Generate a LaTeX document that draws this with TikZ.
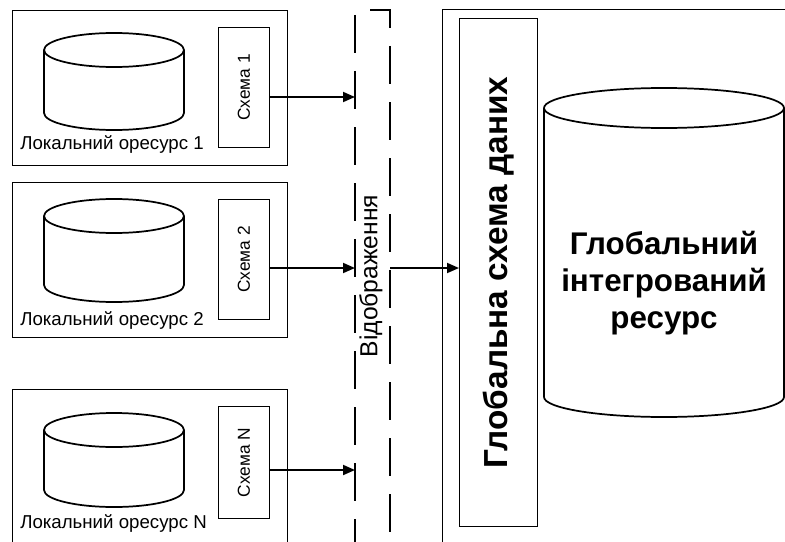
\documentclass[tikz,border=0pt]{standalone}
\usepackage{fontspec}
\setmainfont{Liberation Sans}
\usetikzlibrary{arrows.meta}

\tikzset{
  resbox/.style={draw, line width=0.75pt, anchor=north west, inner sep=0pt},
  schbox/.style={draw, line width=0.75pt, anchor=north west, inner sep=0pt, minimum width=38.25pt},
  dbline/.style={line width=1.3pt},
  reslabel/.style={anchor=west, inner sep=0pt, font=\fontsize{14}{16}\selectfont},
  schlabel/.style={rotate=90, inner sep=0pt, font=\fontsize{13}{15}\selectfont},
  flow/.style={line width=1.4pt, -{Triangle[length=9pt,width=7.5pt]}},
  mapline/.style={line width=1.4pt, dash pattern=on 28.5pt off 13.5pt}
}

\begin{document}
\begin{tikzpicture}[x=0.75pt,y=0.75pt,yscale=-1,xscale=1]
  \clip (0,0) rectangle (785,542);

  % local resource 1
  \node[resbox, minimum width=206.25pt, minimum height=116.25pt] (r1) at (12,10) {};
  \node[schbox, minimum height=90pt, label={[schlabel]center:Схема 1}] (s1) at (218,27) {};
  \draw[dbline] (114,50) ellipse [x radius=70, y radius=17];
  \draw[dbline] (44,50) -- (44,113) arc [start angle=180, end angle=0, x radius=70, y radius=17] -- (184,50);
  \node[reslabel] (l1) at (20,145) {Локальний оресурс 1};

  % local resource 2
  \node[resbox, minimum width=206.25pt, minimum height=116.25pt] (r2) at (12,182) {};
  \node[schbox, minimum height=90pt, label={[schlabel]center:Схема 2}] (s2) at (218,199) {};
  \draw[dbline] (114,216) ellipse [x radius=70, y radius=17];
  \draw[dbline] (44,216) -- (44,285) arc [start angle=180, end angle=0, x radius=70, y radius=17] -- (184,216);
  \node[reslabel] (l2) at (20,321) {Локальний оресурс 2};

  % local resource N
  \node[resbox, minimum width=206.25pt, minimum height=120pt] (r3) at (12,389) {};
  \node[schbox, minimum height=84pt, label={[schlabel]center:Схема N}] (s3) at (218,406) {};
  \draw[dbline] (114,430) ellipse [x radius=70, y radius=17];
  \draw[dbline] (44,430) -- (44,490) arc [start angle=180, end angle=0, x radius=70, y radius=17] -- (184,430);
  \node[reslabel] (l3) at (20,524) {Локальний оресурс N};

  % mapping layer
  \coordinate (a1) at (355,97);
  \coordinate (a2) at (355,268);
  \coordinate (a3) at (355,470);
  \draw[mapline] (355,15) -- (355,542);
  \draw[mapline] (370,10) -- (390,10) -- (390,542);
  \node[rotate=90, inner sep=0pt, font=\fontsize{18.5}{20}\selectfont] (map) at (371,276) {Відображення};

  \draw[flow] (s1.east |- a1) -- (a1);
  \draw[flow] (s2.east |- a2) -- (a2);
  \draw[flow] (s3.east |- a3) -- (a3);

  % global resource
  \node[resbox, minimum width=261pt, minimum height=405pt] (g) at (442,9) {};
  \node[schbox, minimum width=58.5pt, minimum height=381pt,
        label={[rotate=90, inner sep=0pt, font=\bfseries\fontsize{25}{28}\selectfont]center:Глобальна схема даних}] (gs) at (459,18) {};
  \draw[dbline] (664,108) ellipse [x radius=120, y radius=20];
  \draw[dbline] (544,108) -- (544,397) arc [start angle=180, end angle=0, x radius=120, y radius=20] -- (784,108);
  \node[align=center, inner sep=0pt, font=\bfseries\fontsize{23.5}{27.5}\selectfont] (gt) at (664,283)
    {Глобальний\\інтегрований\\ресурс};

  \coordinate (a0) at (390,268);
  \draw[flow] (a0) -- (a0 -| gs.west);
\end{tikzpicture}
\end{document}
